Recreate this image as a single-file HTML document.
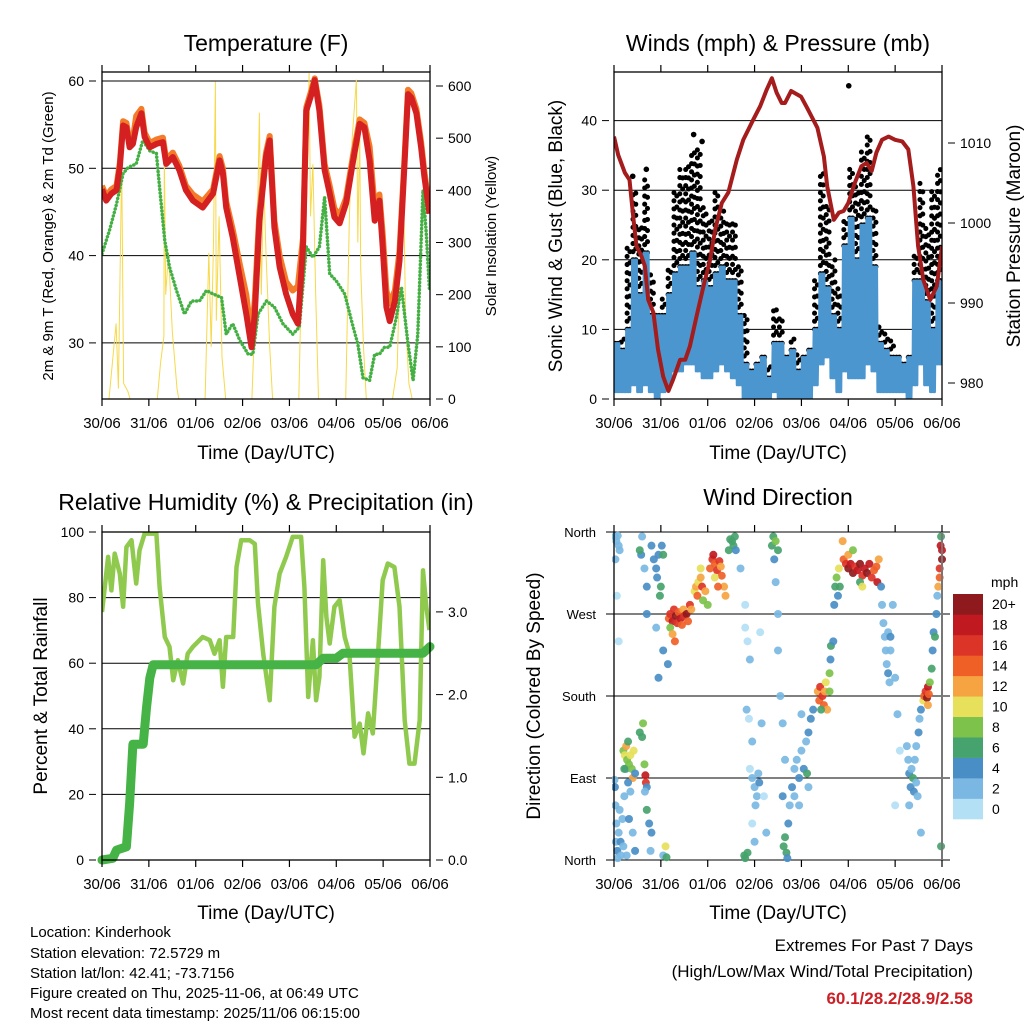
<!DOCTYPE html>
<html><head><meta charset="utf-8"><style>
body{margin:0;background:#fff}
svg{display:block;font-family:"Liberation Sans",Arial,sans-serif}
</style></head><body>
<svg id="s" width="1024" height="1024" viewBox="0 0 1024 1024" xmlns="http://www.w3.org/2000/svg">
<defs>
<clipPath id="c1"><rect x="102" y="72" width="328" height="327"/></clipPath>
<clipPath id="c2"><rect x="614" y="72" width="328" height="327"/></clipPath>
<clipPath id="c3"><rect x="102" y="532" width="328" height="328"/></clipPath>
<clipPath id="c4"><rect x="612" y="528" width="334" height="336"/></clipPath>
</defs>
<g id="g1"></g>
<g id="g2"></g>
<g id="g3"></g>
<g id="g4"></g>
<text x="266" y="51" font-size="23" text-anchor="middle">Temperature (F)</text>
<text x="778" y="51" font-size="23" text-anchor="middle">Winds (mph) &amp; Pressure (mb)</text>
<text x="266" y="510" font-size="23" text-anchor="middle">Relative Humidity (%) &amp; Precipitation (in)</text>
<text x="778" y="505" font-size="23" text-anchor="middle">Wind Direction</text>
<text x="266" y="459" font-size="19" text-anchor="middle">Time (Day/UTC)</text>
<text x="778" y="459" font-size="19" text-anchor="middle">Time (Day/UTC)</text>
<text x="266" y="919" font-size="19" text-anchor="middle">Time (Day/UTC)</text>
<text x="778" y="919" font-size="19" text-anchor="middle">Time (Day/UTC)</text>
<text transform="translate(53,236) rotate(-90)" font-size="15" text-anchor="middle">2m &amp; 9m T (Red, Orange) &amp; 2m Td (Green)</text>
<text transform="translate(496,236) rotate(-90)" font-size="15" text-anchor="middle">Solar Insolation (Yellow)</text>
<text transform="translate(562,236) rotate(-90)" font-size="19" text-anchor="middle">Sonic Wind &amp; Gust (Blue, Black)</text>
<text transform="translate(1020,236) rotate(-90)" font-size="19" text-anchor="middle">Station Pressure (Maroon)</text>
<text transform="translate(47,696) rotate(-90)" font-size="19" text-anchor="middle">Percent &amp; Total Rainfall</text>
<text transform="translate(540,696) rotate(-90)" font-size="19" text-anchor="middle">Direction (Colored By Speed)</text>
<g font-size="15">
<text x="30" y="937">Location: Kinderhook</text>
<text x="30" y="958">Station elevation: 72.5729 m</text>
<text x="30" y="978">Station lat/lon: 42.41; -73.7156</text>
<text x="30" y="998">Figure created on Thu, 2025-11-06, at 06:49 UTC</text>
<text x="30" y="1018">Most recent data timestamp: 2025/11/06 06:15:00</text>
</g>
<g font-size="17" text-anchor="end">
<text x="973" y="951">Extremes For Past 7 Days</text>
<text x="973" y="977">(High/Low/Max Wind/Total Precipitation)</text>
<text x="973" y="1004" fill="#cc2027" font-weight="bold">60.1/28.2/28.9/2.58</text>
</g>
</svg>
<script>
const dayLabels=["30/06","31/06","01/06","02/06","03/06","04/06","05/06","06/06"];
// Temperature (F)
const tempT=[0,0.09,0.2,0.31,0.38,0.45,0.52,0.59,0.66,0.73,0.84,0.91,1.02,1.16,1.3,1.37,1.51,1.65,1.79,1.94,2.15,2.37,2.51,2.58,2.65,2.79,2.94,3.08,3.19,3.26,3.36,3.5,3.58,3.68,3.79,3.93,4.07,4.18,4.29,4.36,4.47,4.54,4.64,4.75,4.86,4.96,5.07,5.21,5.36,5.5,5.6,5.71,5.82,5.92,5.99,6.07,6.14,6.25,6.35,6.46,6.53,6.6,6.71,6.81,6.88,6.99];
const tempRed=[47.6,46.3,47.1,47.5,50.1,54.9,54.7,52.4,52.8,54.7,56.3,53.6,52.4,52.8,53.0,50.5,51.3,49.8,47.5,46.3,45.5,47.1,50.9,49.4,45.5,42.1,37.5,33.3,29.5,33.3,44.0,51.3,53.2,43.2,38.7,35.6,33.3,32.2,41.0,56.6,58.5,60.1,56.6,49.8,47.1,44.4,43.7,46.0,50.9,55.1,54.7,50.9,44.0,46.3,41.0,34.1,32.5,34.8,39.4,50.9,58.5,58.1,56.3,52.4,49.0,44.8];
const tempOrange=[48.0,46.8,47.6,48.0,50.6,55.4,55.2,52.9,53.4,56.0,56.8,54.1,52.9,53.3,53.5,51.0,51.8,50.3,48.0,47.0,46.2,47.6,51.4,50.0,46.2,43.0,39.0,35.5,30.5,35.0,45.0,51.8,53.7,44.0,40.0,37.0,36.0,36.5,42.0,57.0,59.0,60.3,57.2,50.5,48.0,45.4,44.6,46.6,51.6,55.6,55.2,52.5,45.5,47.0,42.5,36.0,34.5,36.0,40.5,51.5,59.0,58.6,56.8,53.0,49.6,45.2];
const dewT=[0,0.16,0.31,0.45,0.56,0.73,0.87,1.02,1.16,1.23,1.34,1.44,1.59,1.76,1.91,2.08,2.23,2.37,2.55,2.65,2.79,2.94,3.12,3.22,3.33,3.51,3.68,3.86,4.07,4.21,4.36,4.5,4.64,4.75,4.86,5.0,5.18,5.36,5.46,5.57,5.71,5.82,5.92,6.03,6.14,6.28,6.39,6.53,6.64,6.74,6.85,6.92,6.99];
const dewVals=[40.2,42.9,45.9,49.4,50.1,50.5,53.2,52.0,51.7,47.8,41.7,38.7,36.0,33.3,34.8,34.8,36.0,35.6,35.2,31.0,32.2,30.3,28.7,28.7,33.3,34.8,34.1,32.2,31.0,31.8,41.0,39.8,41.0,46.7,37.9,37.1,35.6,31.8,29.9,26.0,25.7,28.7,28.7,29.5,29.5,32.9,36.4,29.9,25.7,31.0,47.5,42.5,36.0];
// Solar insolation (W/m2)
const solarT=[0,0.15,0.3,0.35,0.42,0.46,0.55,0.6,1.18,1.25,1.32,1.33,1.36,1.42,1.5,1.6,1.64,2.2,2.28,2.33,2.38,2.42,2.44,2.5,2.56,2.64,3.2,3.26,3.3,3.36,3.4,3.45,3.5,3.58,3.64,4.2,4.26,4.3,4.35,4.42,4.45,4.5,4.56,4.62,5.2,5.28,5.34,5.43,5.46,5.5,5.52,5.58,5.64,6.2,6.3,6.34,6.39,6.44,6.48,6.55,6.62,7.0];
const solarV=[0,0,145,20,457,30,15,0,0,70,120,480,200,280,130,20,0,0,280,100,300,608,150,350,80,0,0,150,250,549,200,420,280,100,0,0,250,420,300,625,350,450,200,0,0,350,500,612,300,520,250,100,0,0,60,200,342,380,150,30,0,0];
// Winds (mph), bins every 0.125 day
const windBinT=[0,0.125,0.25,0.375,0.5,0.625,0.75,0.875,1,1.125,1.25,1.375,1.5,1.625,1.75,1.875,2,2.125,2.25,2.375,2.5,2.625,2.75,2.875,3,3.125,3.25,3.375,3.5,3.625,3.75,3.875,4,4.125,4.25,4.375,4.5,4.625,4.75,4.875,5,5.125,5.25,5.375,5.5,5.625,5.75,5.875,6,6.125,6.25,6.375,6.5,6.625,6.75,6.875];
const windLo=[1,1,1,2,1,2,1,0,1,2,4,4,5,5,4,3,3,4,5,4,3,2,0,0,0,0,0,1,0,0,0,0,0,0,2,5,6,3,1,4,3,3,3,5,4,1,1,1,1,1,0,2,5,2,1,5];
const windHi=[8,7,10,20,15,21,12,12,12,15,18,19,19,21,16,17,16,18,19,17,17,12,5,4,5,6,3,8,8,6,7,4,6,7,10,18,16,12,10,22,26,20,25,26,19,8,7,6,6,5,6,17,17,14,10,17];
const gustHi=[7,9,22,30,25,32,18,13,15,19,30,33,34,36,36,28,26,30,27,26,26,19,12,5,6,7,5,13,12,7,9,7,7,8,17,33,28,20,16,26,33,31,36,38,28,11,10,9,7,6,6,21,31,25,30,33];
const gustOutT=[0.4,0.69,1.7,1.88,5.01];
const gustOutV=[32,33,38,37,45];
// Pressure (mb)
const presT=[0,0.09,0.23,0.33,0.41,0.48,0.59,0.66,0.73,0.84,0.94,1.05,1.16,1.26,1.41,1.52,1.62,1.76,1.91,2.05,2.16,2.3,2.44,2.62,2.76,2.97,3.12,3.26,3.37,3.47,3.58,3.65,3.78,3.99,4.12,4.2,4.34,4.48,4.55,4.69,4.8,4.9,5.0,5.14,5.28,5.39,5.5,5.6,5.72,5.86,6.0,6.15,6.28,6.39,6.49,6.6,6.75,6.89,7.0];
const presV=[1010.8,1008.5,1006.3,1005.4,1000.8,997.1,995.8,994.6,990.4,988.8,984.2,980.8,979.0,980.4,982.9,982.9,984.6,988.3,992.1,995.4,999.2,1002.5,1003.8,1007.9,1010.4,1012.9,1014.6,1016.7,1018.1,1016.3,1015.0,1015.0,1016.5,1015.8,1014.4,1013.5,1011.9,1008.3,1004.6,1000.4,1001.3,1001.5,1002.5,1005.0,1007.1,1007.5,1006.5,1008.8,1010.4,1010.8,1010.4,1010.2,1009.2,1004.6,997.1,992.9,990.4,992.1,997.1];
// Relative humidity (%)
const rhT=[0,0.06,0.13,0.2,0.27,0.38,0.45,0.52,0.63,0.73,0.8,0.91,1.16,1.23,1.34,1.44,1.52,1.62,1.73,1.83,1.94,2.15,2.3,2.4,2.51,2.58,2.65,2.8,2.87,2.97,3.15,3.26,3.33,3.44,3.58,3.68,3.79,3.93,4.07,4.25,4.32,4.4,4.5,4.57,4.64,4.72,4.79,4.86,4.96,5.07,5.18,5.28,5.39,5.5,5.58,5.68,5.78,5.85,5.99,6.1,6.24,6.35,6.46,6.56,6.67,6.78,6.85,6.92,6.99];
const rhV=[75.6,83.2,92.4,82.2,93.4,87.3,77.2,95.4,97.5,84.3,94.4,99.5,99.5,83.2,68.0,65.0,54.8,60.9,53.8,62.9,65.0,68.0,67.0,62.9,67.0,52.8,68.0,68.0,89.3,97.5,97.5,96.4,78.2,62.9,48.7,77.2,87.3,92.4,98.5,98.5,83.2,49.7,67.0,48.7,55.8,91.4,74.1,66.0,77.2,79.2,68.0,62.9,37.6,41.6,32.5,44.7,38.6,53.8,85.3,90.4,89.3,77.2,42.6,29.4,29.4,42.6,88.3,77.2,70.1];
// Precipitation (in)
const prT=[0,0.23,0.31,0.52,0.59,0.66,0.88,0.95,1.02,1.09,4.57,4.72,5.0,5.14,6.85,7.0];
const prV=[0,0.02,0.12,0.16,0.68,1.4,1.4,1.84,2.2,2.36,2.36,2.44,2.44,2.5,2.5,2.58];
// Wind direction points
const dirT=[0.02,0.05,0.08,0.1,0.12,0.03,0.06,0.1,0.01,0.02,0.03,0.05,0.04,0.07,0.1,0.12,0.14,0.15,0.18,0.2,0.22,0.25,0.27,0.08,0.2,0.23,0.26,0.28,0.3,0.32,0.35,0.38,0.4,0.42,0.45,0.3,0.35,0.32,0.4,0.45,0.22,0.55,0.6,0.62,0.65,0.67,0.68,0.7,0.66,0.7,0.75,0.8,0.78,0.6,0.58,0.65,0.7,0.7,0.55,0.8,0.85,0.9,0.95,0.92,1.0,0.98,1.02,1.05,0.9,0.95,1.05,1.1,1.12,1.05,1.15,1.17,1.2,1.25,1.28,1.32,1.35,1.38,1.42,1.45,1.48,1.5,1.55,1.58,1.62,1.65,1.2,1.25,1.3,1.72,1.75,1.78,1.8,1.85,1.88,1.9,1.95,2.0,1.85,2.05,2.1,2.12,2.15,2.2,2.25,2.28,2.3,2.35,2.38,2.15,2.22,2.45,2.48,2.52,2.55,2.58,2.6,2.7,2.8,2.8,2.85,2.9,2.83,2.88,2.95,2.9,2.95,3.0,3.05,3.1,3.08,3.02,2.95,3.0,2.78,2.8,2.85,3.12,3.15,3.2,3.25,3.37,3.4,3.45,3.5,3.42,3.45,3.5,3.5,3.55,3.6,3.65,3.6,3.62,3.65,3.68,3.7,3.72,3.75,3.8,3.85,3.9,3.95,3.85,4.0,4.05,4.1,4.15,4.2,4.25,4.0,4.15,3.95,4.12,4.35,4.38,4.4,4.45,4.48,4.5,4.52,4.55,4.42,4.6,4.62,4.63,4.6,4.68,4.7,4.72,4.75,4.78,4.8,4.82,4.88,4.9,4.95,5.0,5.05,5.1,5.15,5.2,5.25,5.3,5.35,5.4,5.45,5.5,5.55,5.6,5.62,5.65,5.0,5.1,5.25,5.3,5.7,5.72,5.75,5.78,5.8,5.82,5.85,5.88,5.9,5.85,5.9,5.95,6.0,6.05,6.1,6.0,6.25,6.28,6.3,6.33,6.35,6.38,6.4,6.42,6.45,6.48,6.45,6.5,6.52,6.55,6.3,6.55,6.6,6.62,6.65,6.68,6.7,6.72,6.74,6.7,6.78,6.8,6.82,6.85,6.88,6.9,6.92,6.95,6.97,6.98,6.95,7.0,7.0,6.98];
const dirDeg=[355,350,356,345,340,330,290,240,88,80,60,40,20,10,30,55,20,5,45,15,70,100,5,2,120,115,125,110,130,105,115,100,90,120,95,85,75,45,30,10,100,140,135,150,105,93,85,80,75,55,40,30,10,355,335,320,300,270,340,345,330,320,335,310,300,290,345,335,255,200,5,15,3,230,215,265,270,262,275,268,260,272,265,258,275,268,270,262,280,275,255,248,240,295,300,290,305,310,300,285,295,280,320,320,330,335,325,318,328,322,312,300,290,310,300,340,352,350,345,355,340,320,280,255,240,220,165,155,130,100,90,80,70,85,95,60,40,20,5,2,8,250,150,70,30,345,355,350,340,330,305,270,230,180,150,110,70,15,25,8,2,40,60,80,100,110,90,70,120,100,130,140,155,165,160,80,60,95,185,175,190,180,170,185,195,165,165,205,220,235,185,240,280,300,310,290,320,300,350,330,325,320,325,315,322,318,325,312,320,315,325,310,318,322,305,330,335,340,305,300,300,280,260,245,230,215,205,195,230,250,245,280,200,160,120,60,125,110,95,80,100,90,75,110,85,70,125,140,155,165,60,30,175,180,185,178,190,182,195,170,210,230,250,245,270,290,300,320,345,355,310,330,340,15];
const dirSpd=[2,3,2,2,3,2,1,1,3,4,3,3,3,4,3,2,4,3,3,3,2,4,3,3,8,10,12,8,6,9,11,8,12,10,5,4,3,4,3,4,7,7,6,8,9,19,16,5,3,6,5,4,3,3,4,3,5,4,6,4,4,5,4,5,6,7,4,6,3,4,3,10,6,5,4,14,16,18,17,20,16,14,18,15,12,17,20,14,16,12,8,12,14,10,12,14,11,13,16,9,12,8,10,14,16,18,15,17,16,12,14,13,12,10,15,6,7,6,6,7,5,2,1,1,1,2,2,1,2,1,2,3,2,4,3,2,1,2,6,7,6,1,2,1,2,6,7,8,6,4,2,2,3,2,3,2,4,6,6,7,5,4,3,4,3,2,4,2,3,4,3,4,5,4,2,2,3,7,12,15,17,16,14,12,10,12,7,8,5,7,9,4,4,6,8,5,10,7,12,14,16,20,18,20,17,19,20,16,18,20,19,17,15,14,18,12,13,8,6,10,4,3,3,3,3,2,4,3,2,3,5,2,2,2,1,1,2,3,4,5,3,6,4,3,3,2,3,4,3,4,2,2,10,14,16,20,18,15,8,12,7,4,4,6,4,3,12,16,18,6,14,20,18,7];
const speedColors=["#b4e0f6","#7ab8e3","#4a8ec6","#46a36d","#7cc24b","#e6e05a","#f6a442","#ef6027","#dd3428","#c0191f","#8f1a1d"];
const speedLabels=["0","2","4","6","8","10","12","14","16","18","20+"];
const tempTicks=[30,40,50,60];
const solarTicks=[0,100,200,300,400,500,600];
const windTicks=[0,10,20,30,40];
const presTicks=[980,990,1000,1010];
const rhTicks=[0,20,40,60,80,100];
const prTicks=["0.0","1.0","2.0","3.0"];
const dirTicks=["North","East","South","West","North"];

const NS="http://www.w3.org/2000/svg";
function mk(parent,tag,attrs){const e=document.createElementNS(NS,tag);for(const k in attrs)e.setAttribute(k,attrs[k]);parent.appendChild(e);return e;}
const PW=328;
function xs(x0){return t=>x0+t*PW/7;}
const x1=xs(102),x2=xs(614),x3=xs(102),x4=xs(614);
const yT=v=>81+(60-v)*8.73, yS=v=>399-v*313/600;
const yW=v=>399-v*6.96, yP=p=>143+(1010-p)*8.0;
const yR=v=>860-v*3.28, yPr=v=>860-v*82.7;
const yD=d=>860-d*328/360;
function pts(T,V,fx,fy){return T.map((t,i)=>fx(t).toFixed(1)+","+fy(V[i]).toFixed(1)).join(" ");}

function frameAndXAxis(g,x0,yTop,yBot,fx){
  for(let i=0;i<dayLabels.length;i++){
    const x=fx(i);
    const tb=mk(g,"line",{x1:x,x2:x,y1:yBot,y2:yBot+7,stroke:"#000","stroke-width":1.2});
    
    
    const tt=mk(g,"line",{x1:x,x2:x,y1:yTop,y2:yTop-7,stroke:"#000","stroke-width":1.2});
    
    
    const lb=mk(g,"text",{x:x,y:yBot+29,"font-size":15,"text-anchor":"middle"});
    lb.textContent=dayLabels[i];
    
    
  }
}
function frame(g,x0,yTop,yBot){
  const r=mk(g,"rect",{x:x0,y:yTop,width:PW,height:yBot-yTop,fill:"none",stroke:"#000","stroke-width":1.3});
  
  
}
function hgrid(g,xa,xb,y,name){
  const l=mk(g,"line",{x1:xa,x2:xb,y1:y,y2:y,stroke:"#000","stroke-width":1});
  
  
}
function ylab(g,x,y,txt,anchor,name){
  const t=mk(g,"text",{x:x,y:y+5,"font-size":14,"text-anchor":anchor});
  t.textContent=txt;
  
  
  const tk=mk(g,"line",{x1:anchor==="end"?x+5:x-12,x2:anchor==="end"?x+12:x-5,y1:y,y2:y,stroke:"#000","stroke-width":1});
  
  
}

/* Panel 1 */
const g1=document.getElementById("g1");
tempTicks.forEach(v=>{hgrid(g1,102,430,yT(v),'temp-gridline');ylab(g1,84,yT(v),String(v),"end",'temp-tick-label');});
solarTicks.forEach(v=>{ylab(g1,448,yS(v),String(v),"start",'solar-tick-label');});
const c1=mk(g1,"g",{"clip-path":"url(#c1)"});
const sol=mk(c1,"polyline",{points:pts(solarT,solarV,x1,yS),fill:"none",stroke:"#f7d94a","stroke-width":1});


const dew=mk(c1,"polyline",{points:pts(dewT,dewVals,x1,yT),fill:"none",stroke:"#44b044","stroke-width":3.5,"stroke-dasharray":"0.1 3.5","stroke-linecap":"round","stroke-linejoin":"round"});


const org=mk(c1,"polyline",{points:pts(tempT,tempOrange,x1,yT),fill:"none",stroke:"#f47b2a","stroke-width":6,"stroke-linejoin":"round"});


const red=mk(c1,"polyline",{points:pts(tempT,tempRed,x1,yT),fill:"none",stroke:"#d42020","stroke-width":6,"stroke-linejoin":"round"});


frame(g1,102,72,399);
frameAndXAxis(g1,102,72,399,x1);

/* Panel 2 */
const g2=document.getElementById("g2");
windTicks.forEach(v=>{if(v>0)hgrid(g2,614,942,yW(v),'wind-gridline');ylab(g2,597,yW(v),String(v),"end",'wind-tick-label');});
presTicks.forEach(v=>{ylab(g2,960,yP(v),String(v),"start",'pressure-tick-label');});
const c2=mk(g2,"g",{"clip-path":"url(#c2)"});
windBinT.forEach((t,i)=>{
  [0.03,0.09].forEach((o,j)=>{
    const gl=mk(c2,"line",{x1:x2(t+o),x2:x2(t+o),y1:yW(windHi[i]),y2:yW(gustHi[i]),stroke:"#000","stroke-width":5,"stroke-linecap":"round","stroke-dasharray":j?"0.1 11":"0.1 8"});
    
    
  });
});
gustOutT.forEach((t,i)=>{
  const d=mk(c2,"circle",{cx:x2(t),cy:yW(gustOutV[i]),r:2.8,fill:"#000"});
  
  
});
let wz=[];
windBinT.forEach((t,i)=>{for(let k=0;k<8;k++){wz.push([t+k*0.0156,k%2?windHi[i]:windLo[i]]);}});
const wl=mk(c2,"polyline",{points:wz.map(p=>x2(p[0]).toFixed(1)+","+yW(p[1]).toFixed(1)).join(" "),fill:"none",stroke:"#4c96d0","stroke-width":2.5,"stroke-linejoin":"round"});


const pl=mk(c2,"polyline",{points:pts(presT,presV,x2,yP),fill:"none",stroke:"#a51c1c","stroke-width":4,"stroke-linejoin":"round"});


frame(g2,614,72,399);
frameAndXAxis(g2,614,72,399,x2);

/* Panel 3 */
const g3=document.getElementById("g3");
rhTicks.forEach(v=>{if(v>0&&v<100)hgrid(g3,102,430,yR(v),'rh-gridline');ylab(g3,84,yR(v),String(v),"end",'rh-tick-label');});
prTicks.forEach(v=>{ylab(g3,448,yPr(parseFloat(v)),v,"start",'precip-tick-label');});
const c3=mk(g3,"g",{"clip-path":"url(#c3)"});
const rh=mk(c3,"polyline",{points:pts(rhT,rhV,x3,yR),fill:"none",stroke:"#8fca4e","stroke-width":4.5,"stroke-linejoin":"round"});


const pr=mk(g3,"polyline",{points:pts(prT,prV,x3,yPr),fill:"none",stroke:"#46b346","stroke-width":9,"stroke-linejoin":"round","stroke-linecap":"round"});


frame(g3,102,532,860);
frameAndXAxis(g3,102,532,860,x3);

/* Panel 4 */
const g4=document.getElementById("g4");
dirTicks.forEach((d,i)=>{
  const y=yD(i*90);
  hgrid(g4,606,950,y,'direction-gridline');
  const t=mk(g4,"text",{x:596,y:y+5,"font-size":13,"text-anchor":"end"});
  t.textContent=d;
  
  
});
const c4=mk(g4,"g",{"clip-path":"url(#c4)"});
dirT.forEach((t,i)=>{
  const k=Math.min(10,Math.floor(dirSpd[i]/2));
  const p=mk(c4,"circle",{cx:x4(t),cy:yD(dirDeg[i]),r:4,fill:speedColors[k],"fill-opacity":0.92});
  
  
});
const l4=mk(g4,"line",{x1:614,x2:614,y1:532,y2:860,stroke:"#000","stroke-width":1.3});


const r4=mk(g4,"line",{x1:942,x2:942,y1:532,y2:860,stroke:"#777","stroke-width":2});


frameAndXAxis(g4,614,532,860,x4);
// colorbar
const cbTitle=mk(g4,"text",{x:991,y:587,"font-size":14});
cbTitle.textContent="mph";


const bh=225/11;
speedColors.forEach((c,i)=>{
  const y=594+(10-i)*bh;
  const r=mk(g4,"rect",{x:953,y:y,width:30,height:bh+0.3,fill:c});
  
  
  const t=mk(g4,"text",{x:992,y:y+bh/2+5,"font-size":14});
  t.textContent=speedLabels[i];
  
  
});
</script>
</body></html>
